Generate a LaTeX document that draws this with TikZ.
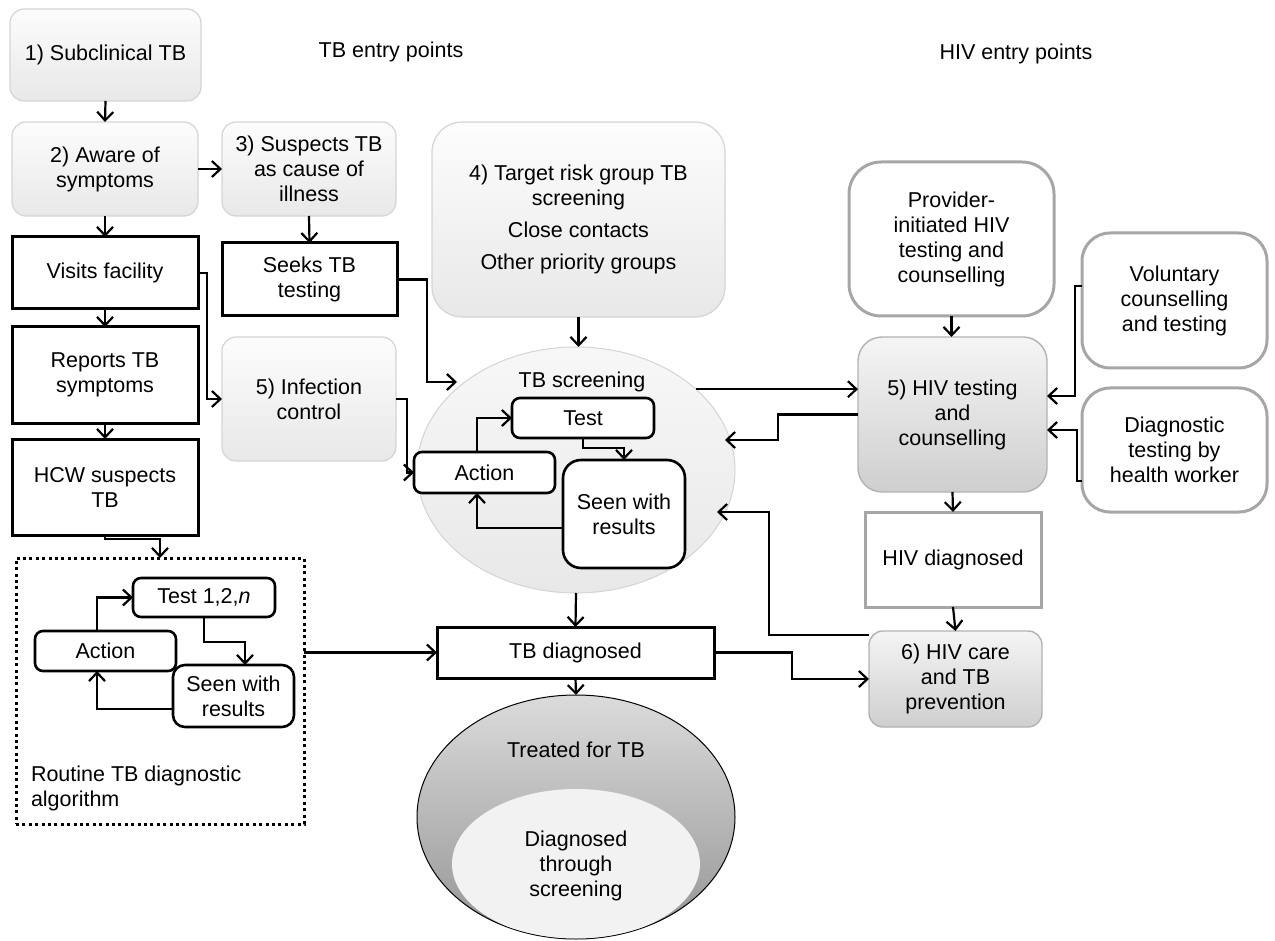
\documentclass[tikz,border=0pt]{standalone}
\usepackage{fontspec}
\setmainfont{Liberation Sans}
\usetikzlibrary{arrows.meta,shapes.geometric,calc}
\begin{document}
\begin{tikzpicture}[x=1pt,y=-1pt,
  every node/.style={font=\fontsize{21.5}{25}\selectfont, inner sep=2pt, outer sep=0pt},
  lbox/.style={rectangle, rounded corners=14pt, draw=black!17, line width=1.2pt, top color=black!1, bottom color=black!9, align=center},
  dbox/.style={rectangle, rounded corners=24pt, draw=black!30, line width=1.4pt, top color=black!4, bottom color=black!19, align=center},
  bbox/.style={rectangle, draw=black, line width=3pt, fill=white, align=center},
  rbox/.style={rectangle, rounded corners=8pt, draw=black, line width=2.6pt, fill=white, align=center},
  gbox/.style={rectangle, rounded corners=28pt, draw=black!35, line width=3pt, fill=white, align=center},
  arr/.style={line width=2.2pt, -{Straight Barb[length=8.5pt,width=16pt,line width=2.2pt]}},
  ln/.style={line width=2pt}
]
\useasboundingbox (0,0) rectangle (1275,941);

% headers
\node (hTB) at (391,52) {TB entry points};
\node (hHIV) at (1016,54) {HIV entry points};

% left column
\node[lbox, minimum width=191, minimum height=92] (sub) at (105.5,55) {1) Subclinical TB};
\node[lbox, minimum width=186, minimum height=94] (aware) at (105,169) {2) Aware of\\symptoms};
\node[lbox, minimum width=174, minimum height=94] (susp) at (309,169) {3) Suspects TB\\as cause of\\illness};
\node[bbox, minimum width=186, minimum height=72] (visits) at (105,273) {Visits facility};
\node[bbox, minimum width=175, minimum height=73] (seeks) at (309.5,279.5) {Seeks TB\\testing};
\node[bbox, minimum width=186, minimum height=96] (reports) at (105,375) {Reports TB\\symptoms};
\node[lbox, minimum width=174, minimum height=124] (infc) at (309,399) {5) Infection\\control};
\node[bbox, minimum width=186, minimum height=96] (hcw) at (105,487) {HCW suspects\\TB};

% box 4
\node[lbox, rounded corners=30pt, minimum width=293, minimum height=195] (tr) at (578.5,219.5)
  {4) Target risk group TB\\screening\\[7pt]Close contacts\\[7pt]Other priority groups};

% TB screening ellipse
\node[ellipse, minimum width=318, minimum height=246, draw=black!17, line width=1pt, top color=black!3, bottom color=black!9] (scr) at (576,470) {};
\node (scrl) at (582,382) {TB screening};
\node[rbox, minimum width=142, minimum height=40] (sTest) at (583,418) {Test};
\node[rbox, minimum width=141, minimum height=41] (sAct) at (484.5,472.5) {Action};
\node[rbox, rounded corners=18pt, minimum width=122, minimum height=108] (sSeen) at (624,514) {Seen with\\results};

% TB diagnosed
\node[bbox, minimum width=277, minimum height=51] (tbd) at (575.5,652.5) {TB diagnosed};

% Treated ellipse
\node[ellipse, minimum width=318, minimum height=244, draw=black, line width=1pt, top color=black!14, bottom color=black!42] (treat) at (576,817) {};
\begin{scope}
  \clip (576,817) ellipse [x radius=158.5pt, y radius=121.5pt];
  \fill[black!5] (576,864) ellipse [x radius=124pt, y radius=75pt];
\end{scope}
\node (treatl) at (576,750) {Treated for TB};
\node[align=center] (diagl) at (576,866) {Diagnosed\\through\\screening};

% routine algorithm
\node[rectangle, draw=black, line width=3pt, dash pattern=on 3pt off 3.4pt, minimum width=288, minimum height=266] (dot) at (160,691) {};
\node[rbox, minimum width=142, minimum height=39] (rTest) at (204,597.5) {Test 1,2,\textit{n}};
\node[rbox, minimum width=141, minimum height=40] (rAct) at (105.5,651) {Action};
\node[rbox, rounded corners=12pt, minimum width=121, minimum height=62] (rSeen) at (233.5,696) {Seen with\\results};
\node[align=left, anchor=west] (routl) at (29,788.5) {Routine TB diagnostic\\algorithm};

% HIV side
\node[gbox, rounded corners=32pt, minimum width=205, minimum height=154] (prov) at (951.5,239) {Provider-\\initiated HIV\\testing and\\counselling};
\node[gbox, minimum width=185, minimum height=135] (vol) at (1174.5,300.5) {Voluntary\\counselling\\and testing};
\node[gbox, minimum width=185, minimum height=124] (diag) at (1174.5,450) {Diagnostic\\testing by\\health worker};
\node[dbox, minimum width=189, minimum height=155] (hivt) at (952.5,414.5) {5) HIV testing\\and\\counselling};
\node[rectangle, draw=black!35, line width=3pt, fill=white, minimum width=176, minimum height=95] (hivd) at (953,559.5) {HIV diagnosed};
\node[dbox, rounded corners=14pt, minimum width=173, minimum height=96] (hivc) at (955.5,679) {6) HIV care\\and TB\\prevention};

% free ends on the screening ellipse
\coordinate (scrA) at (457,382);
\coordinate (scrB) at (725,440);
\coordinate (scrC) at (717,512);

% connectors left
\draw[arr] (sub.south) -- (aware.north);
\draw[arr] (aware.east) -- (susp.west);
\draw[arr] (aware.south) -- (visits.north);
\draw[arr] (susp.south) -- (seeks.north);
\draw[arr] (visits.south) -- (reports.north);
\draw[arr] (reports.south) -- (hcw.north);
\draw[arr] (visits.east) -- ++(9,0) |- (infc.west);
\draw[arr] (seeks.east) -| ($(scrA)+(-30,0)$) -- (scrA);
\draw[arr] (infc.east) -- ++(11,0) |- (sAct.west);
\draw[arr] (tr.south) -- (tr.south |- scr.north);
\draw[arr] (hcw.south) -- ++(0,4) -| (dot.north);
\draw[arr] (dot.east |- tbd.west) -- (tbd.west);

% screening loop
\draw[arr] ([xshift=-7.5pt]sAct.north) |- (sTest.west);
\draw[arr] (sTest.south) -- ++(0,10) -| (sSeen.north);
\draw[arr] ([yshift=-14pt]sSeen.west) -| ([xshift=-7.5pt]sAct.south);

% routine loop
\draw[arr] ([xshift=-8.5pt]rAct.north) |- (rTest.west);
\draw[arr] (rTest.south) -- ++(0,25) -| ([xshift=11.5pt]rSeen.north);
\draw[arr] ([yshift=-13pt]rSeen.west) -| ([xshift=-8.5pt]rAct.south);

% centre
\draw[arr] (scr.south) -- (tbd.north);
\draw[arr] (tbd.south) -- (treat.north);
\draw[arr] (scr.34.8) -- (scr.34.8 -| hivt.west);
\draw[arr] (hivt.west) -- ++(-80,0) |- (scrB);
\draw[arr] ([yshift=44pt]hivc.west) -- ++(-100,0) |- (scrC);
\draw[arr] (tbd.east) -- ++(78,0) |- (hivc.west);

% HIV connectors
\draw[arr] (prov.south) -- (prov.south |- hivt.north);
\draw[arr] ([yshift=14.5pt]vol.west) -- ++(-7,0) |- ([yshift=18.5pt]hivt.east);
\draw[arr] ([yshift=-31pt]diag.west) -- ++(-5,0) |- ([yshift=-15.5pt]hivt.east);
\draw[arr] (hivt.south) -- (hivd.north);
\draw[arr] (hivd.south) -- (hivc.north);
\end{tikzpicture}
\end{document}
